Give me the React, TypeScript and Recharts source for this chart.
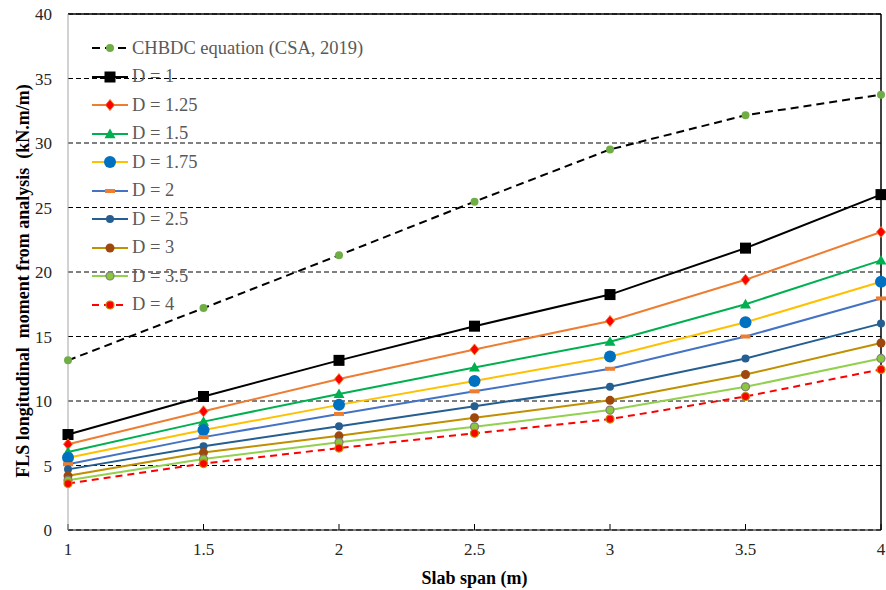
import React from "react"
import {
  LineChart,
  Line,
  XAxis,
  YAxis,
  CartesianGrid,
  ReferenceLine,
  Legend,
} from "recharts"

// slab span (m)
const spans = [1, 1.5, 2, 2.5, 3, 3.5, 4]

// FLS longitudinal moment (kN.m/m)
const chbdc = [13.15, 17.2, 21.3, 25.45, 29.5, 32.15, 33.75]
const d1 = [7.4, 10.35, 13.15, 15.8, 18.25, 21.85, 26.0]
const d125 = [6.65, 9.2, 11.7, 14.0, 16.2, 19.4, 23.1]
const d15 = [6.05, 8.4, 10.55, 12.6, 14.6, 17.5, 20.9]
const d175 = [5.6, 7.75, 9.7, 11.55, 13.45, 16.1, 19.25]
const d2 = [5.1, 7.2, 9.0, 10.75, 12.5, 15.0, 17.95]
const d25 = [4.7, 6.5, 8.05, 9.6, 11.1, 13.3, 16.0]
const d3 = [4.2, 6.0, 7.3, 8.7, 10.05, 12.05, 14.5]
const d35 = [3.85, 5.5, 6.8, 8.0, 9.3, 11.1, 13.3]
const d4 = [3.6, 5.15, 6.35, 7.5, 8.6, 10.35, 12.45]

const xTicks = [1, 1.5, 2, 2.5, 3, 3.5, 4]
const yTicks = [0, 5, 10, 15, 20, 25, 30, 35, 40]

type Shape = "circle" | "square" | "diamond" | "triangle" | "dash"

type Series = {
  key: string
  name: string
  values: number[]
  color: string
  dash?: string
  shape: Shape
  size: number
  fill: string
  edge?: string
}

const series: Series[] = [
  { key: "chbdc", name: "CHBDC equation (CSA, 2019)", values: chbdc, color: "#000000", dash: "8 5", shape: "circle", size: 4, fill: "#70AD47" },
  { key: "d1", name: "D = 1", values: d1, color: "#000000", shape: "square", size: 5.5, fill: "#000000" },
  { key: "d125", name: "D = 1.25", values: d125, color: "#ED7D31", shape: "diamond", size: 4.5, fill: "#FF0000", edge: "#ED7D31" },
  { key: "d15", name: "D = 1.5", values: d15, color: "#00B050", shape: "triangle", size: 5.5, fill: "#00B050" },
  { key: "d175", name: "D = 1.75", values: d175, color: "#FFC000", shape: "circle", size: 6, fill: "#0070C0" },
  { key: "d2", name: "D = 2", values: d2, color: "#4472C4", shape: "dash", size: 5, fill: "#ED7D31" },
  { key: "d25", name: "D = 2.5", values: d25, color: "#255E91", shape: "circle", size: 4, fill: "#255E91" },
  { key: "d3", name: "D = 3", values: d3, color: "#BF9000", shape: "circle", size: 4.5, fill: "#9E480E" },
  { key: "d35", name: "D = 3.5", values: d35, color: "#92D050", shape: "circle", size: 4, fill: "#8CC63F", edge: "#7F7F7F" },
  { key: "d4", name: "D = 4", values: d4, color: "#FF0000", dash: "7 5", shape: "circle", size: 4, fill: "#FF0000", edge: "#BF9000" },
]

const data = spans.map((span, i) => {
  const row: Record<string, number> = { span }
  series.forEach((s) => {
    row[s.key] = s.values[i]
  })
  return row
})

function Marker({ cx, cy, s }: { cx: number; cy: number; s: Series }) {
  const r = s.size
  const stroke = s.edge || "none"
  if (s.shape === "square") {
    return <rect x={cx - r} y={cy - r} width={r * 2} height={r * 2} fill={s.fill} />
  }
  if (s.shape === "diamond") {
    return (
      <polygon
        points={`${cx},${cy - r - 1} ${cx + r},${cy} ${cx},${cy + r + 1} ${cx - r},${cy}`}
        fill={s.fill}
        stroke={stroke}
        strokeWidth={1}
      />
    )
  }
  if (s.shape === "triangle") {
    return <polygon points={`${cx},${cy - r} ${cx + r},${cy + r * 0.75} ${cx - r},${cy + r * 0.75}`} fill={s.fill} />
  }
  if (s.shape === "dash") {
    return <rect x={cx - r} y={cy - 2} width={r * 2} height={4} fill={s.fill} />
  }
  return <circle cx={cx} cy={cy} r={r} fill={s.fill} stroke={stroke} strokeWidth={1.2} />
}

function LegendBox() {
  return (
    <div style={{ fontFamily: "'Liberation Serif', 'Times New Roman', serif", fontSize: 18.5, color: "#595959" }}>
      {series.map((s) => (
        <div key={s.key} style={{ display: "flex", alignItems: "center", height: 28.5 }}>
          <svg width={42} height={20} style={{ flex: "none" }}>
            <line x1={2} y1={10} x2={38} y2={10} stroke={s.color} strokeWidth={2} strokeDasharray={s.dash} />
            <Marker cx={20} cy={10} s={s} />
          </svg>
          <span style={{ whiteSpace: "nowrap" }}>{s.name}</span>
        </div>
      ))}
    </div>
  )
}

const tickStyle = { fontFamily: "'Liberation Serif', serif", fontSize: 17, fill: "#262626" }
const titleStyle = { fontFamily: "'Liberation Serif', serif", fontSize: 18, fontWeight: 700, fill: "#000" }

// rotated y title, keeps the double spaces of the original
function YTitle(props: any) {
  const vb = props.viewBox || { x: 0, y: 0, width: 68, height: 516 }
  const x = vb.x + 23
  const y = vb.y + vb.height / 2 + 9
  return (
    <text
      x={x}
      y={y}
      transform={`rotate(-90, ${x}, ${y})`}
      textAnchor="middle"
      dominantBaseline="central"
      style={{ ...titleStyle, whiteSpace: "pre" }}
    >
      {"FLS longitudinal  moment from analysis  (kN.m/m)"}
    </text>
  )
}

export default function App() {
  return (
    <div style={{ position: "absolute", left: 0, top: 0, width: 886, height: 590, background: "#fff" }}>
      <LineChart width={886} height={590} data={data} margin={{ top: 14, right: 5, bottom: 0, left: 0 }}>
        <CartesianGrid vertical={false} stroke="#000" strokeDasharray="5 3" />
        <XAxis
          dataKey="span"
          type="number"
          domain={[1, 4]}
          ticks={xTicks}
          height={60}
          stroke="#000"
          tickSize={-6}
          tickMargin={19}
          tick={tickStyle}
          label={{ value: "Slab span (m)", position: "insideBottom", offset: 6, style: titleStyle }}
        />
        <YAxis
          type="number"
          domain={[0, 40]}
          ticks={yTicks}
          width={68}
          stroke="#A6A6A6"
          tickLine={false}
          tickSize={0}
          tickMargin={16}
          tick={tickStyle}
          label={<YTitle />}
        />
        <ReferenceLine y={40} stroke="#000" strokeWidth={1.5} />
        <ReferenceLine x={4} stroke="#000" strokeWidth={1.5} />
        <Legend
          layout="vertical"
          align="center"
          verticalAlign="middle"
          content={() => <LegendBox />}
          wrapperStyle={{ left: 90, top: 34, width: 320 }}
        />
        {series.map((s) => (
          <Line
            key={s.key}
            dataKey={s.key}
            name={s.name}
            stroke={s.color}
            strokeWidth={2}
            strokeDasharray={s.dash}
            isAnimationActive={false}
            dot={(p: any) => <Marker key={`${s.key}-${p.index}`} cx={p.cx} cy={p.cy} s={s} />}
            activeDot={false}
          />
        ))}
      </LineChart>
    </div>
  )
}
